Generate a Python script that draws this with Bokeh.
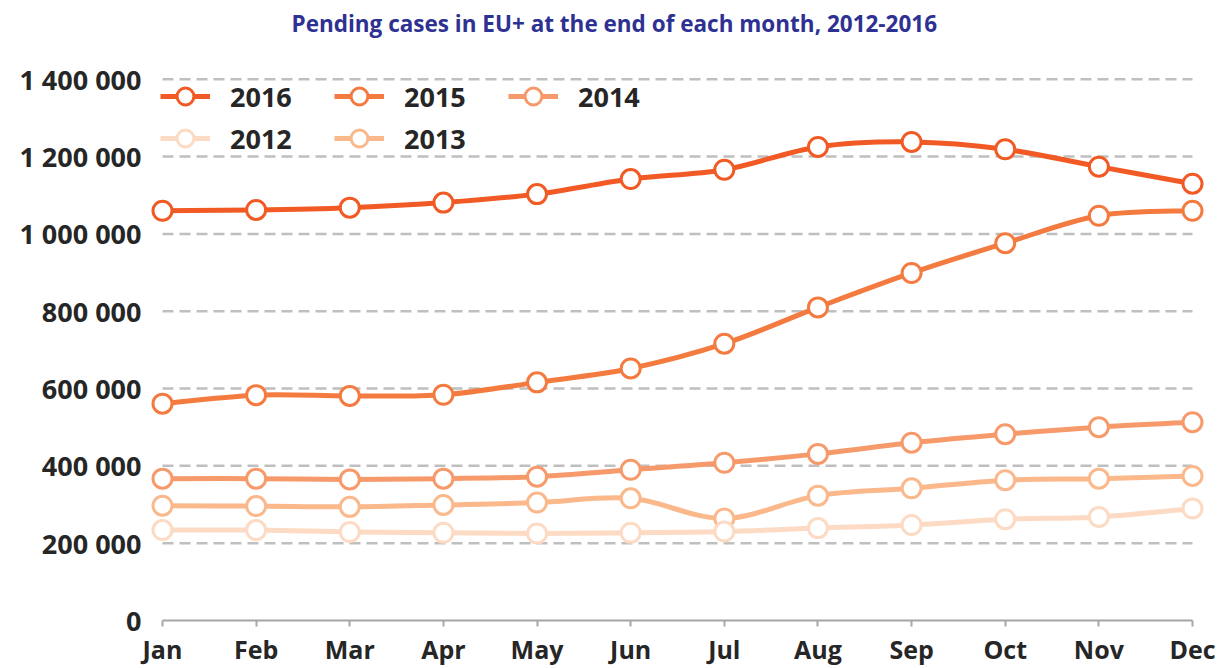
import numpy as np
from bokeh.plotting import figure
from bokeh.models import Range1d, FixedTicker, Legend, LegendItem
from bokeh.embed import file_html
from bokeh.resources import INLINE

# ---------------- data ----------------
months = ["Jan", "Feb", "Mar", "Apr", "May", "Jun", "Jul", "Aug", "Sep", "Oct", "Nov", "Dec"]
y2016 = [1060000, 1062000, 1068000, 1081000, 1103000, 1142000, 1166000, 1225000, 1238000, 1219000, 1174000, 1130000]
y2015 = [561000, 583000, 581000, 584000, 616000, 652000, 716000, 810000, 899000, 976000, 1047000, 1060000]
y2014 = [367000, 367000, 365000, 367000, 372000, 390000, 408000, 431000, 460000, 482000, 500000, 513000]
y2013 = [297000, 296000, 294000, 299000, 305000, 316000, 264000, 323000, 342000, 363000, 367000, 374000]
y2012 = [234000, 234000, 229000, 227000, 225000, 227000, 230000, 239000, 247000, 262000, 268000, 290000]
y_ticks = [0, 200000, 400000, 600000, 800000, 1000000, 1200000, 1400000]
y_tick_labels = ["0", "200 000", "400 000", "600 000", "800 000", "1 000 000", "1 200 000", "1 400 000"]
title_text = "Pending cases in EU+ at the end of each month, 2012-2016"

series = [
    ("2016", y2016, "#F15A24"),
    ("2015", y2015, "#F47B40"),
    ("2014", y2014, "#F79A6B"),
    ("2012", y2012, "#FCDAC3"),
    ("2013", y2013, "#FAB88B"),
]
draw_order = ["2013", "2012", "2014", "2015", "2016"]
# legend grid (filled column by column): row 1 = 2016 2015 2014, row 2 = 2012 2013
legend_order = ["2016", "2012", "2015", "2013", "2014"]

FONT = "Open Sans"
TEXT = "#262626"

n = len(months)
xs = np.arange(n, dtype=float)

p = figure(width=1220, height=668, output_backend="svg", toolbar_location=None,
           x_range=Range1d(-0.1495, n - 1 + 0.299), y_range=Range1d(0, 1492600),
           min_border_left=148, min_border_right=0, min_border_top=0, min_border_bottom=0)
p.outline_line_color = None
p.xgrid.visible = False
p.ygrid.visible = False

# title
p.title.text = title_text
p.title.align = "left"
p.title.offset = 143
p.title.standoff = 10
p.title.text_font = FONT
p.title.text_font_size = "22.5px"
p.title.text_font_style = "bold"
p.title.text_color = "#2E3192"

# gridlines (dashed), spanning the category extent
gv = [v for v in y_ticks if v > 0]
p.segment(x0=[0] * len(gv), x1=[n - 1] * len(gv), y0=gv, y1=gv,
          line_color="#BFBFBF", line_width=2.5, line_dash="11 6")

# axes
xa = p.xaxis[0]
xa.ticker = FixedTicker(ticks=list(range(n)))
xa.major_label_overrides = {i: m for i, m in enumerate(months)}
xa.bounds = (0, n - 1)
xa.axis_line_color = "#A6A6A6"
xa.axis_line_width = 2
xa.major_tick_line_color = "#A6A6A6"
xa.major_tick_line_width = 2
xa.major_tick_out = 6
xa.major_tick_in = 0
xa.minor_tick_line_color = None
xa.major_label_text_font = FONT
xa.major_label_text_font_size = "25px"
xa.major_label_text_font_style = "bold"
xa.major_label_text_color = TEXT
xa.major_label_standoff = 5

ya = p.yaxis[0]
ya.ticker = FixedTicker(ticks=y_ticks)
ya.major_label_overrides = {t: l for t, l in zip(y_ticks, y_tick_labels)}
ya.axis_line_color = None
ya.major_tick_line_color = None
ya.minor_tick_line_color = None
ya.major_label_text_font = FONT
ya.major_label_text_font_size = "27px"
ya.major_label_text_font_style = "bold"
ya.major_label_text_color = TEXT
ya.major_label_standoff = 1


def smooth_segments(y):
    y = np.asarray(y, dtype=float)
    yp = np.concatenate([[y[0]], y, [y[-1]]])
    xp = np.concatenate([[xs[0]], xs, [xs[-1]]])
    x0, y0 = xp[1:-2], yp[1:-2]
    x1, y1 = xp[2:-1], yp[2:-1]
    cx0 = x0 + (xp[2:-1] - xp[0:-3]) / 6.0
    cy0 = y0 + (yp[2:-1] - yp[0:-3]) / 6.0
    cx1 = x1 - (xp[3:] - xp[1:-2]) / 6.0
    cy1 = y1 - (yp[3:] - yp[1:-2]) / 6.0
    return dict(x0=x0, y0=y0, x1=x1, y1=y1, cx0=cx0, cy0=cy0, cx1=cx1, cy1=cy1)


renderers = {}
lookup = {name: (vals, col) for name, vals, col in series}
for name in draw_order:
    vals, col = lookup[name]
    seg = smooth_segments(vals)
    lr = p.bezier(x0=seg["x0"], y0=seg["y0"], x1=seg["x1"], y1=seg["y1"],
                  cx0=seg["cx0"], cy0=seg["cy0"], cx1=seg["cx1"], cy1=seg["cy1"],
                  line_color=col, line_width=5)
    sr = p.scatter(x=xs, y=vals, size=19, marker="circle", fill_color="white",
                   line_color=col, line_width=3)
    renderers[name] = [lr, sr]

items = [LegendItem(label=name, renderers=renderers[name]) for name in legend_order]
legend = Legend(items=items, location=(12, 461), ncols=3,
                glyph_width=50, glyph_height=42, label_standoff=20,
                label_width=104, label_height=42, spacing=0,
                margin=0, padding=0,
                label_text_font=FONT, label_text_font_size="27px",
                label_text_font_style="bold", label_text_color=TEXT,
                border_line_color=None, background_fill_alpha=0)
p.add_layout(legend)

open("out.html", "w").write(file_html(p, INLINE))
